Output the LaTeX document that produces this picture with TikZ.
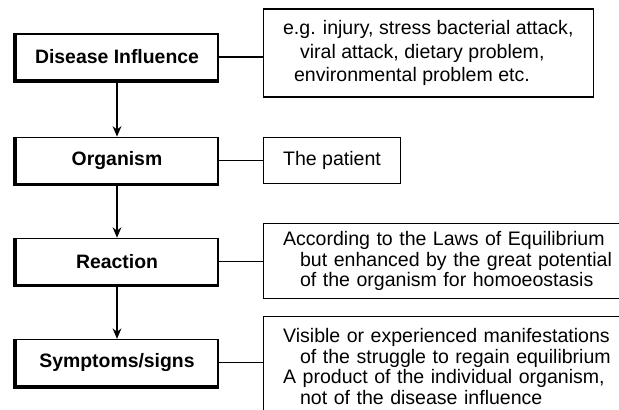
\documentclass[tikz,border=0pt]{standalone}
\usepackage{fontspec}
\setmainfont{Liberation Sans}
\usepackage{tikz}
\usetikzlibrary{arrows.meta,positioning}

\begin{document}
\begin{tikzpicture}[
    stage/.style={rectangle, draw, line width=0.8pt, minimum width=5.05cm, minimum height=1.15cm, align=center, font=\fontsize{13.8}{16}\selectfont\bfseries},
    note/.style={rectangle, draw, line width=0.8pt, inner xsep=0.5cm, align=left, font=\fontsize{13.9}{14.6}\selectfont},
    arrow/.style={-{Stealth[length=2.6mm, width=2.2mm]}, line width=0.8pt},
    link/.style={line width=0.8pt}
]
    \clip (0,0) rectangle (15.475,-10.25);

    % Stages
    \node[stage] (dis) at (2.925,-1.425) {Disease Influence};
    \node[stage, below=1.4cm of dis] (org) {Organism};
    \node[stage, below=1.35cm of org] (rea) {Reaction};
    \node[stage, below=1.35cm of rea] (sym) {Symptoms/signs};

    % heavy left and bottom edges
    \foreach \n in {dis,org,rea,sym}
        \draw[line width=2pt] ([xshift=-0.03cm]\n.north west) -- ([xshift=-0.03cm,yshift=-0.03cm]\n.south west) -- ([yshift=-0.03cm]\n.south east);

    % Notes
    \node[note, right=1.1cm of dis, yshift=0.1cm, minimum height=2.2cm, font=\fontsize{13.9}{16.6}\selectfont] (eg)
        {e.g. injury, stress bacterial attack,\\\hspace{0.425cm}viral attack, dietary problem,\\\hspace{0.275cm}environmental problem etc.};
    \node[note, right=1.1cm of org, minimum height=1.15cm] (pat) {The patient};
    \node[note, right=1.1cm of rea, text width=8.6cm, minimum height=1.875cm] (law)
        {According to the Laws of Equilibrium\\\hspace{0.425cm}but enhanced by the great potential\\\hspace{0.425cm}of the organism for homoeostasis};
    \node[note, right=1.1cm of sym, yshift=-0.1cm, text width=8.6cm, minimum height=2.5cm] (man)
        {Visible or experienced manifestations\\\hspace{0.425cm}of the struggle to regain equilibrium\\A product of the individual organism,\\\hspace{0.425cm}not of the disease influence};

    % Flow
    \draw[arrow] (dis) -- (org);
    \draw[arrow] (org) -- (rea);
    \draw[arrow] (rea) -- (sym);

    % Links
    \draw[link] (dis.east) -- (dis.east -| eg.west);
    \draw[link] (org.east) -- (org.east -| pat.west);
    \draw[link] (rea.east) -- (rea.east -| law.west);
    \draw[link] (sym.east) -- (sym.east -| man.west);
\end{tikzpicture}
\end{document}
